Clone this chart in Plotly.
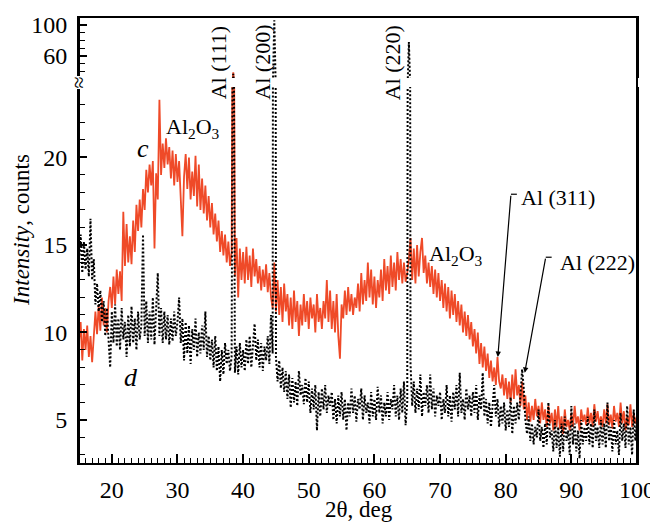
import plotly.graph_objects as go

# 2-theta scan: start, step (deg)
theta_start = 15.0
theta_step = 0.25

# curve c (red, solid) – intensity, counts
c_counts = [
    9.5, 10.6, 8.4, 10.2, 9.0, 10.4, 8.6, 9.8, 8.3, 9.6, 11.2, 9.9, 11.6, 10.1, 12.0, 10.4, 11.4, 10.0, 11.8, 12.6,
    11.4, 13.2, 11.6, 13.6, 12.2, 13.5, 11.8, 16.9, 13.8, 16.2, 14.0, 15.5, 13.9, 16.4, 14.6, 17.3, 15.8, 17.6, 16.0, 18.2,
    17.0, 19.3, 18.0, 19.6, 18.4, 19.8, 14.8, 19.1, 17.6, 23.3, 19.0, 20.8, 19.4, 21.1, 19.6, 20.6, 18.8, 20.4, 18.4, 20.2,
    18.6, 19.8, 17.4, 15.5, 18.9, 20.2, 18.2, 20.0, 17.6, 19.2, 17.8, 20.1, 17.2, 19.6, 17.0, 18.8, 16.8, 18.4, 16.4, 17.8,
    16.0, 17.4, 15.6, 16.8, 15.2, 16.4, 14.6, 15.8, 14.4, 15.6, 14.0, 15.2, 13.8, 14.6, 39.0, 13.2, 15.4, 12.0, 14.8, 13.0,
    14.6, 12.8, 14.9, 13.0, 14.4, 12.6, 14.8, 13.2, 14.2, 12.8, 13.8, 12.4, 13.6, 12.6, 13.9, 12.3, 13.4, 12.0, 11.4, 14.0,
    11.2, 13.0, 11.0, 12.6, 10.6, 12.8, 11.2, 12.2, 10.4, 12.0, 10.2, 12.4, 10.6, 11.8, 9.8, 11.6, 10.4, 12.2, 10.6, 11.8,
    10.2, 12.0, 10.8, 11.6, 10.0, 12.2, 10.6, 11.4, 10.2, 11.8, 10.8, 13.0, 10.6, 12.4, 10.2, 11.8, 10.0, 12.2, 9.8, 8.5,
    11.6, 10.8, 12.4, 11.0, 12.6, 11.2, 12.2, 11.0, 12.0, 11.4, 12.8, 11.2, 13.4, 11.6, 13.0, 11.8, 14.0, 12.0, 13.6, 11.6,
    13.2, 11.4, 13.0, 12.0, 13.6, 11.8, 14.2, 12.4, 13.8, 12.2, 14.4, 12.6, 14.0, 12.4, 14.6, 13.0, 14.2, 12.8, 14.0, 12.9,
    13.4, 14.2, 15.4, 13.0, 14.8, 12.8, 15.0, 13.2, 14.6, 15.4, 13.4, 14.4, 12.8, 14.0, 12.6, 13.8, 12.2, 13.6, 12.0, 13.4,
    11.8, 13.0, 11.4, 12.8, 11.2, 12.6, 10.8, 12.4, 11.0, 12.2, 10.6, 11.8, 10.4, 11.6, 10.0, 11.2, 9.8, 11.0, 9.6, 10.6,
    9.2, 10.2, 8.8, 10.0, 8.2, 9.4, 8.0, 9.2, 7.8, 8.8, 7.4, 8.4, 7.2, 8.0, 7.0, 8.6, 7.2, 6.8, 7.6, 6.4,
    7.4, 6.2, 7.2, 6.0, 7.6, 6.2, 7.9, 6.4, 7.0, 5.8, 7.2, 5.6, 6.4, 5.0, 6.0, 4.9, 5.8, 5.0, 6.2, 5.2,
    5.8, 4.8, 6.0, 5.0, 5.6, 4.6, 5.8, 4.8, 5.4, 4.4, 5.6, 4.6, 5.8, 4.5, 5.2, 4.2, 5.6, 4.6, 5.0, 4.4,
    5.4, 4.6, 5.8, 4.8, 5.2, 4.4, 5.6, 4.9, 5.3, 4.7, 5.7, 4.8, 5.4, 4.6, 5.9, 4.9, 5.5, 4.7, 5.2, 4.6,
    5.6, 4.8, 5.9, 4.7, 5.3, 4.5, 5.8, 4.9, 5.4, 4.6, 6.0, 4.8, 5.5, 4.4, 5.2, 4.7, 5.9, 4.6, 5.4, 4.8,
    5.2,
]

# curve d (black, dotted) – intensity, counts
d_counts = [
    14.2, 15.6, 13.4, 15.2, 13.6, 14.8, 13.2, 16.5, 13.0, 14.2, 11.6, 12.8, 11.2, 12.4, 10.6, 11.8, 9.8, 11.4, 9.6, 8.0,
    11.2, 9.4, 11.6, 9.2, 10.8, 9.0, 11.4, 9.6, 10.6, 8.6, 11.0, 9.2, 11.5, 9.4, 10.8, 9.0, 11.2, 9.6, 10.4, 15.6,
    9.8, 11.8, 9.4, 11.2, 9.6, 12.0, 9.3, 11.0, 13.4, 9.8, 11.4, 9.4, 11.2, 9.6, 11.0, 9.3, 10.8, 9.5, 11.2, 9.8,
    10.6, 12.0, 9.4, 10.8, 8.4, 10.6, 8.8, 10.4, 8.2, 10.2, 9.0, 10.8, 8.6, 10.0, 8.8, 10.4, 9.0, 11.2, 8.6, 9.8,
    8.4, 9.6, 8.0, 9.8, 7.8, 9.2, 7.2, 9.0, 7.6, 9.4, 8.2, 9.0, 7.8, 8.6, 37.0, 7.7, 9.2, 7.6, 9.4, 8.0,
    9.0, 7.8, 9.6, 8.2, 9.8, 8.0, 9.2, 10.5, 8.4, 9.6, 8.0, 9.4, 7.8, 9.2, 8.4, 9.8, 8.2, 11.0, 8.8, 106.0,
    8.6, 7.2, 8.4, 6.8, 8.0, 6.6, 7.8, 6.2, 7.6, 5.7, 7.4, 6.0, 7.2, 5.8, 7.8, 6.4, 7.0, 5.9, 7.4, 6.0,
    7.2, 5.4, 6.8, 5.6, 7.0, 4.4, 6.6, 5.2, 6.8, 5.6, 7.0, 5.4, 6.4, 5.8, 6.6, 5.0, 6.2, 4.8, 6.4, 5.2,
    6.6, 5.0, 6.2, 4.4, 6.0, 5.2, 6.8, 5.4, 6.4, 4.9, 6.2, 5.6, 6.8, 5.0, 6.4, 5.4, 6.0, 4.8, 6.6, 5.2,
    6.2, 5.0, 6.9, 5.4, 6.4, 4.8, 6.0, 5.2, 6.6, 5.0, 6.2, 5.6, 7.0, 5.2, 6.4, 5.0, 6.8, 5.4, 7.2, 4.7,
    6.0, 78.0, 8.2, 5.8, 7.2, 5.4, 6.8, 5.6, 7.6, 5.2, 6.6, 5.8, 7.0, 5.4, 7.6, 5.6, 6.8, 5.2, 6.4, 5.8,
    6.6, 5.0, 6.2, 5.4, 7.0, 5.2, 6.4, 4.9, 6.6, 5.6, 7.0, 5.2, 7.7, 5.4, 6.2, 5.0, 6.8, 5.6, 6.4, 5.2,
    6.6, 5.4, 7.0, 5.0, 6.4, 5.6, 7.7, 5.2, 6.2, 4.8, 6.0, 4.6, 5.8, 7.0, 5.2, 6.2, 4.6, 5.8, 4.8, 6.0,
    4.4, 5.6, 4.6, 6.3, 4.2, 5.8, 4.8, 6.0, 5.0, 6.6, 7.9, 6.8, 5.0, 4.2, 5.2, 3.8, 4.8, 3.6, 4.6, 4.0,
    5.6, 3.8, 4.6, 3.4, 4.8, 3.6, 6.0, 4.0, 4.4, 3.2, 5.0, 3.4, 4.6, 2.9, 4.8, 3.2, 5.2, 3.8, 4.4, 3.0,
    5.8, 3.6, 4.8, 3.2, 4.4, 2.8, 5.0, 3.6, 4.6, 3.8, 5.2, 3.6, 4.8, 3.4, 5.6, 3.8, 4.6, 3.4, 5.0, 3.6,
    4.8, 3.4, 6.0, 3.8, 4.6, 3.2, 5.0, 3.6, 4.4, 3.0, 5.4, 3.8, 4.8, 3.4, 5.8, 3.6, 4.6, 3.0, 5.6, 3.8,
    5.0,
]

two_theta = [theta_start + i * theta_step for i in range(len(c_counts))]

x_ticks = [20, 30, 40, 50, 60, 70, 80, 90, 100]
y_low_ticks = [5, 10, 15, 20]
y_high_ticks = [60, 100]

RED = "#ef4a28"
FONT = "Liberation Serif"

fig = go.Figure()
for xa, ya in (("x", "y"), ("x2", "y2")):
    fig.add_trace(go.Scatter(x=two_theta, y=c_counts, mode="lines", xaxis=xa, yaxis=ya,
                             line=dict(color=RED, width=1.8), showlegend=False))
    fig.add_trace(go.Scatter(x=two_theta, y=d_counts, mode="lines", xaxis=xa, yaxis=ya,
                             line=dict(color="black", width=2, dash="2px,2px"), showlegend=False))

tickfont = dict(family=FONT, size=24, color="black")

# page has an 8px body margin, so the figure is drawn 8px smaller and offset
fig.update_layout(
    width=650, height=517,
    margin=dict(l=71, r=21, t=10, b=62, autoexpand=False),
    paper_bgcolor="white", plot_bgcolor="white",
    font=dict(family=FONT, color="black"),
    xaxis=dict(range=[15, 100], anchor="y", domain=[0, 1], tickvals=x_ticks, automargin=False,
               ticks="inside", ticklen=9, tickwidth=1.5, tickcolor="black",
               minor=dict(dtick=1, tick0=0, ticks="inside", ticklen=5, tickwidth=1.2, tickcolor="black"),
               showgrid=False, zeroline=False, showline=True, linecolor="black", linewidth=2,
               tickfont=tickfont, ticklabelstandoff=4),
    xaxis2=dict(range=[15, 100], anchor="y2", matches="x", side="top", showticklabels=False, ticks="",
                automargin=False,
                showgrid=False, zeroline=False, showline=True, linecolor="black", linewidth=2),
    yaxis=dict(range=[2.54, 24.03], domain=[0, 0.845], tickvals=y_low_ticks, automargin=False,
               ticks="inside", ticklen=8, tickwidth=1.5, tickcolor="black",
               minor=dict(dtick=1, tick0=0, ticks="inside", ticklen=6, tickwidth=1.2, tickcolor="black"),
               showgrid=False, zeroline=False, showline=True, mirror=True, linecolor="black", linewidth=2,
               tickfont=tickfont, ticklabelstandoff=5),
    yaxis2=dict(range=[31.6, 109.0], domain=[0.865, 1], tickvals=y_high_ticks, automargin=False,
                ticks="inside", ticklen=8, tickwidth=1.5, tickcolor="black",
                minor=dict(dtick=10, tick0=0, ticks="inside", ticklen=6, tickwidth=1.2, tickcolor="black"),
                showgrid=False, zeroline=False, showline=True, mirror=True, linecolor="black", linewidth=2,
                tickfont=tickfont, ticklabelstandoff=5),
)

# continuous frame edges across the axis break
fig.add_shape(type="line", xref="paper", yref="paper", x0=1, x1=1, y0=0, y1=1,
              line=dict(color="black", width=2), layer="above")
fig.add_shape(type="line", xref="paper", yref="paper", x0=0, x1=0, y0=0, y1=1,
              line=dict(color="black", width=2), layer="above")

ann_font = dict(family=FONT, size=22, color="black")
# rotated peak labels
for label, xpos in (("Al (111)", 36.3), ("Al (200)", 42.9), ("Al (220)", 62.8)):
    fig.add_annotation(x=xpos, y=0.900, xref="x", yref="paper", text=label, textangle=-90,
                       xanchor="center", yanchor="middle", showarrow=False, font=ann_font)

fig.add_annotation(x=32.4, y=21.7, xref="x", yref="y", text="Al<sub>2</sub>O<sub>3</sub>",
                   xanchor="center", yanchor="middle", showarrow=False, font=ann_font)
fig.add_annotation(x=72.4, y=14.4, xref="x", yref="y", text="Al<sub>2</sub>O<sub>3</sub>",
                   xanchor="center", yanchor="middle", showarrow=False, font=ann_font)
fig.add_annotation(x=24.8, y=20.5, xref="x", yref="y", text="<i>c</i>",
                   xanchor="center", yanchor="middle", showarrow=False,
                   font=dict(family=FONT, size=26, color="black"))
fig.add_annotation(x=22.9, y=7.4, xref="x", yref="y", text="<i>d</i>",
                   xanchor="center", yanchor="middle", showarrow=False,
                   font=dict(family=FONT, size=26, color="black"))

# Al(311), Al(222) with leaders
fig.add_annotation(x=82.0, y=17.7, xref="x", yref="y", text="Al (311)", xanchor="left",
                   yanchor="middle", showarrow=False, font=ann_font)
fig.add_annotation(x=88.0, y=14.0, xref="x", yref="y", text="Al (222)", xanchor="left",
                   yanchor="middle", showarrow=False, font=ann_font)
fig.add_annotation(x=78.8, y=8.6, xref="x", yref="y", ax=80.8, ay=17.9, axref="x", ayref="y",
                   text="", showarrow=True, arrowhead=2, arrowsize=0.9, arrowwidth=1.2, arrowcolor="black")
fig.add_annotation(x=82.9, y=7.7, xref="x", yref="y", ax=86.1, ay=14.3, axref="x", ayref="y",
                   text="", showarrow=True, arrowhead=2, arrowsize=0.9, arrowwidth=1.2, arrowcolor="black")
fig.add_shape(type="line", xref="x", yref="y", x0=80.8, x1=81.7, y0=17.9, y1=17.9,
              line=dict(color="black", width=1.2))
fig.add_shape(type="line", xref="x", yref="y", x0=86.1, x1=87.0, y0=14.3, y1=14.3,
              line=dict(color="black", width=1.2))

# axis break mark
fig.add_annotation(x=0, y=0.855, xref="paper", yref="paper", text="≈", textangle=-90,
                   xanchor="center", yanchor="middle", showarrow=False,
                   font=dict(family=FONT, size=22, color="black"),
                   bgcolor="white", borderpad=0)

# axis titles
fig.add_annotation(x=0.502, y=-0.1056, xref="paper", yref="paper", text="2θ, deg",
                   xanchor="center", yanchor="middle", showarrow=False,
                   font=dict(family=FONT, size=23, color="black"))
fig.add_annotation(x=-0.102, y=0.524, xref="paper", yref="paper", text="<i>Intensity</i>, counts",
                   xanchor="center", yanchor="middle", textangle=-90, showarrow=False,
                   font=dict(family=FONT, size=23, color="black"))

fig.write_html("out.html")
